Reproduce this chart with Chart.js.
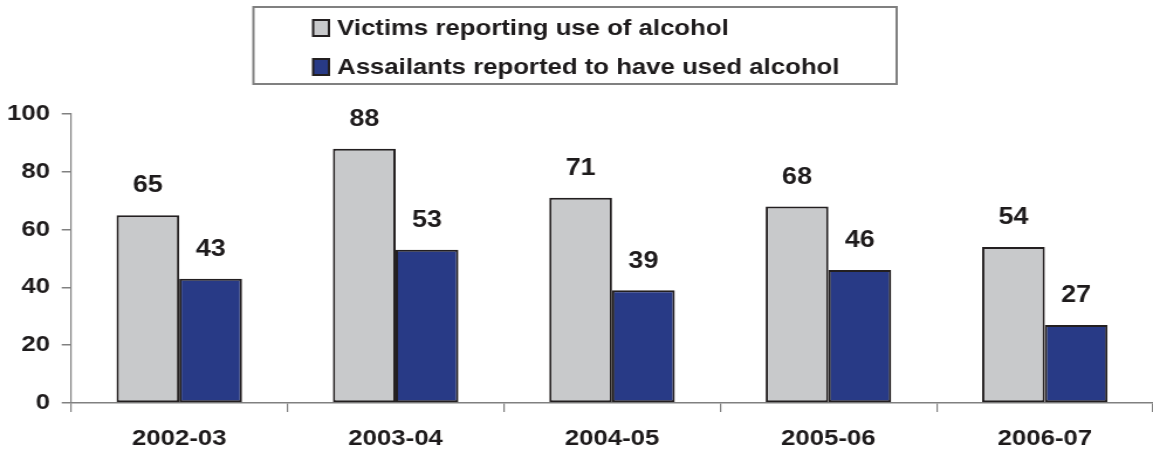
<!DOCTYPE html>
<html>
<head>
<meta charset="utf-8">
<script src="https://cdn.jsdelivr.net/npm/chart.js@4/dist/chart.umd.min.js"></script>
<style>
  html, body { margin: 0; padding: 0; background: #ffffff; overflow: hidden; }
  #wrap { position: absolute; left: 0; top: 0; width: 985px; height: 457px; transform: scaleX(1.17056); transform-origin: 0 0; }
</style>
</head>
<body>
<div id="wrap"><canvas id="c"></canvas></div>
<script>
const categories = ['2002-03', '2003-04', '2004-05', '2005-06', '2006-07'];
const victims = [65, 88, 71, 68, 54];
const assailants = [43, 53, 39, 46, 27];
const seriesLabels = ['Victims reporting use of alcohol', 'Assailants reported to have used alcohol'];
const yTickValues = [0, 20, 40, 60, 80, 100];

const FONT = '"Liberation Sans", Arial, Helvetica, sans-serif';
const TEXT = '#1E1B1C';
const GREY = '#C8C9CB';
const BLUE = '#283A86';
const EDGE = '#231F20';
const AXIS = '#808080';

const valueLabels = {
  id: 'valueLabels',
  afterDatasetsDraw(chart) {
    const ctx = chart.ctx;
    ctx.save();
    ctx.font = 'bold 23px ' + FONT;
    ctx.fillStyle = TEXT;
    ctx.textAlign = 'center';
    ctx.textBaseline = 'middle';
    chart.data.datasets.forEach((ds, i) => {
      chart.getDatasetMeta(i).data.forEach((el, j) => {
        ctx.fillText(String(ds.data[j]), el.x, el.y - 29);
      });
    });
    ctx.restore();
  }
};

const boxLegend = {
  id: 'boxLegend',
  afterDraw(chart) {
    const ctx = chart.ctx;
    ctx.save();
    ctx.strokeStyle = AXIS;
    ctx.lineWidth = 2;
    ctx.strokeRect(216.5, 7, 549.5, 77);
    const rows = [28, 67];
    const fills = [GREY, BLUE];
    ctx.font = 'bold 22px ' + FONT;
    ctx.textAlign = 'left';
    ctx.textBaseline = 'middle';
    rows.forEach((y, i) => {
      ctx.fillStyle = fills[i];
      ctx.fillRect(267.5, y - 8, 13.5, 16);
      ctx.strokeStyle = EDGE;
      ctx.lineWidth = 2;
      ctx.strokeRect(267.5, y - 8, 13.5, 16);
      ctx.fillStyle = TEXT;
      ctx.fillText(chart.data.datasets[i].label, 288, y + 1);
    });
    ctx.restore();
  }
};

new Chart(document.getElementById('c'), {
  type: 'bar',
  data: {
    labels: categories,
    datasets: [
      { label: seriesLabels[0], data: victims, backgroundColor: GREY, borderColor: EDGE, borderWidth: 2, borderSkipped: false },
      { label: seriesLabels[1], data: assailants, backgroundColor: BLUE, borderColor: EDGE, borderWidth: 2, borderSkipped: false }
    ]
  },
  options: {
    responsive: true,
    maintainAspectRatio: false,
    animation: false,
    events: [],
    layout: { padding: { top: 114, left: 0, right: 0, bottom: 0 } },
    plugins: { legend: { display: false }, tooltip: { enabled: false }, title: { display: false } },
    datasets: { bar: { categoryPercentage: 0.58, barPercentage: 1.0 } },
    scales: {
      x: {
        offset: true,
        grid: { offset: true, drawOnChartArea: false, drawTicks: true, tickLength: 9, color: AXIS, lineWidth: 1.2 },
        border: { display: true, color: AXIS, width: 1.5 },
        ticks: { color: TEXT, font: { family: FONT, size: 22, weight: 'bold' }, padding: 14, maxRotation: 0, autoSkip: false },
        afterFit(s) { s.height = 54; }
      },
      y: {
        min: 0, max: 100,
        afterBuildTicks(s) { s.ticks = yTickValues.map(v => ({ value: v })); },
        grid: { drawOnChartArea: false, drawTicks: true, tickLength: 8, color: AXIS, lineWidth: 1.5 },
        border: { display: true, color: AXIS, width: 1.2 },
        ticks: { color: TEXT, font: { family: FONT, size: 22, weight: 'bold' }, padding: 10 },
        afterFit(s) { s.width = 60.7; }
      }
    }
  },
  plugins: [valueLabels, boxLegend]
});
</script>
</body>
</html>
